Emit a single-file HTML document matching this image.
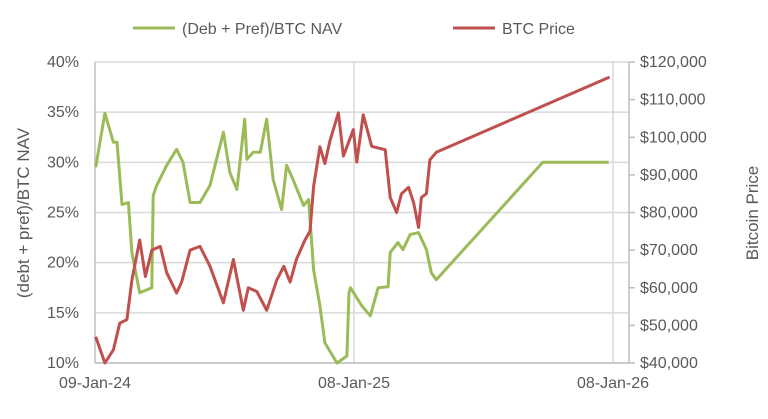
<!DOCTYPE html>
<html><head><meta charset="utf-8"><style>
body{margin:0;background:#fff;}
svg text{font-family:"Liberation Sans",sans-serif;fill:#595959;}
</style></head><body>
<svg id="chart" width="768" height="414" viewBox="0 0 768 414" xmlns="http://www.w3.org/2000/svg">
<g>
<line x1="133" y1="28" x2="175" y2="28" stroke="#9bbb59" stroke-width="3"/>
<text x="182" y="34" font-size="16">(Deb + Pref)/BTC NAV</text>
<line x1="453" y1="28" x2="495" y2="28" stroke="#c0504d" stroke-width="3"/>
<text x="502" y="34" font-size="16">BTC Price</text>
</g>
<g id="grid"></g>
<g id="axes"></g>
<g id="series"></g>
<text transform="translate(29,213) rotate(-90)" text-anchor="middle" font-size="17">(debt + pref)/BTC NAV</text>
<text transform="translate(758,213) rotate(-90)" text-anchor="middle" font-size="17">Bitcoin Price</text>
</svg>
<script>
const navDays=[1,14,26,31,38,47,52,63,80,82,87,101,115,124,134,148,162,181,190,200,211,214,223,233,242,251,263,270,279,294,301,308,317,324,341,355,358,360,376,388,399,413,416,427,434,444,456,467,474,481,631,724];
const navPct=[29.5,34.9,32,32,25.8,26,21,17,17.5,26.7,27.7,29.7,31.3,30,26,26,27.7,33,29,27.3,34.3,30.3,31,31,34.3,28.3,25.3,29.7,28.3,25.7,26.3,19.3,15.7,12,10,10.7,17,17.5,15.7,14.7,17.5,17.6,21,22,21.3,22.8,23,21.3,19,18.3,30,30];
const btcDays=[1,14,26,35,45,52,63,71,80,92,101,115,122,134,148,162,181,195,209,216,228,242,256,266,275,284,296,303,308,317,324,331,343,350,364,369,378,390,409,416,425,432,442,449,456,460,467,472,481,725];
const btcK=[47,40,43.5,50.6,51.5,62,72.7,63,70,71,64,58.6,61.5,70,71,65.7,56,67.5,54,60,59,54,62,65.7,61.5,67.6,72.7,75,86.9,97.5,93,99,106.5,95,102,93.4,106,97.6,96.7,84,80,85,86.7,82.6,76,84,85,94,96,116];
const leftTicks=["10%","15%","20%","25%","30%","35%","40%"];
const leftVals=[10,15,20,25,30,35,40];
const rightVals=[40,50,60,70,80,90,100,110,120];
const rightTicks=["$40,000","$50,000","$60,000","$70,000","$80,000","$90,000","$100,000","$110,000","$120,000"];
const xTickDays=[0,365,730];
const xTickLabels=["09-Jan-24","08-Jan-25","08-Jan-26"];

const NS="http://www.w3.org/2000/svg";
const X0=95,X1=629,YB=363,YT=62;
const xs=d=>X0+d*(259/365);
const yl=v=>YB-(v-10)/30*(YB-YT);
const yr=v=>YB-(v-40)/80*(YB-YT);
function mk(tag,attrs,parent,txt){const e=document.createElementNS(NS,tag);for(const k in attrs)e.setAttribute(k,attrs[k]);if(txt!==undefined)e.textContent=txt;parent.appendChild(e);return e;}
const grid=document.getElementById('grid'),axes=document.getElementById('axes'),ser=document.getElementById('series');
leftVals.forEach((v,i)=>{
  const g=mk('line',{x1:X0,x2:X1,y1:yl(v),y2:yl(v),stroke:'#d9d9d9','stroke-width':1.5},grid);
  
  
  const t=mk('text',{x:79,y:yl(v)+5,'text-anchor':'end','font-size':16},axes,leftTicks[i]);
  
  
});
xTickDays.forEach((d,i)=>{
  if(i>0){const g=mk('line',{x1:xs(d),x2:xs(d),y1:YT,y2:YB,stroke:'#d9d9d9','stroke-width':1.5},grid);
  
  }
  const t=mk('text',{x:xs(d),y:388,'text-anchor':'middle','font-size':16},axes,xTickLabels[i]);
  
  
});
rightVals.forEach((v,i)=>{
  const k=mk('line',{x1:X1,x2:X1+6,y1:yr(v),y2:yr(v),stroke:'#bfbfbf','stroke-width':1.5},axes);
  
  
  const t=mk('text',{x:640,y:yr(v)+5,'font-size':16},axes,rightTicks[i]);
  
  
});
const la=mk('line',{x1:X0,x2:X0,y1:YT,y2:YB,stroke:'#bfbfbf','stroke-width':1.5},axes);


const ra=mk('line',{x1:X1,x2:X1,y1:YT,y2:YB,stroke:'#bfbfbf','stroke-width':1.5},axes);


const ba=mk('line',{x1:X0,x2:X1,y1:YB,y2:YB,stroke:'#bfbfbf','stroke-width':1.5},axes);


const pn=mk('polyline',{points:navDays.map((d,i)=>xs(d).toFixed(1)+','+yl(navPct[i]).toFixed(1)).join(' '),fill:'none',stroke:'#9bbb59','stroke-width':3,'stroke-linejoin':'round'},ser);


const pb=mk('polyline',{points:btcDays.map((d,i)=>xs(d).toFixed(1)+','+yr(btcK[i]).toFixed(1)).join(' '),fill:'none',stroke:'#c0504d','stroke-width':3,'stroke-linejoin':'round'},ser);


</script>
</body></html>
